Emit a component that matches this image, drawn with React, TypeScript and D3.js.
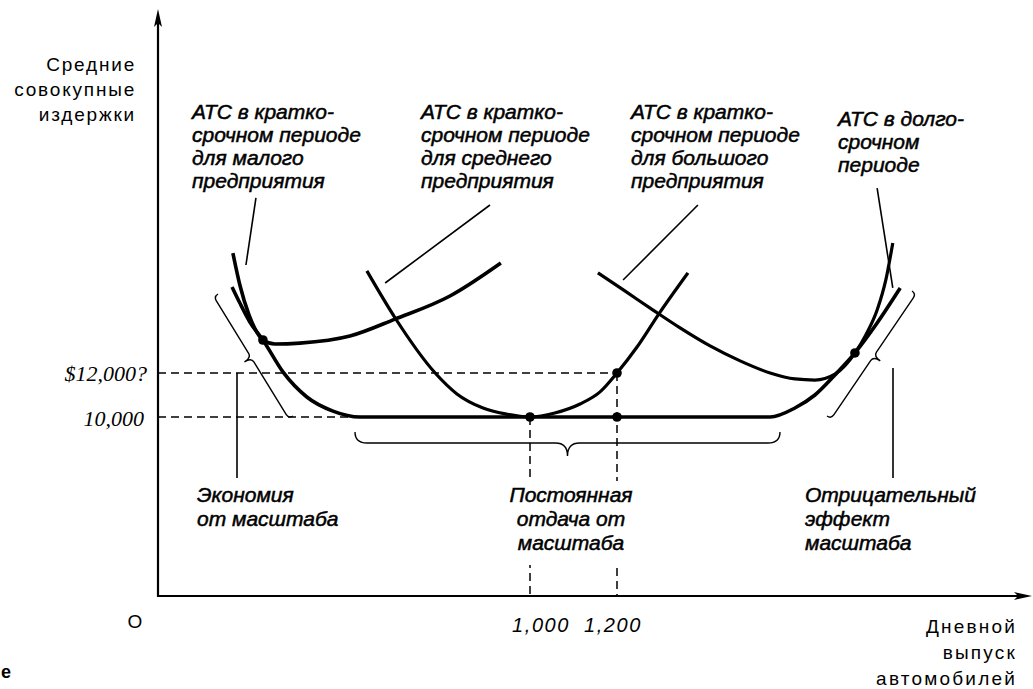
import React from "react";
import * as d3 from "d3";

// ---- Data (output in cars/day, cost in $) ----
const X_TICKS = [1000, 1200];
const X_TICK_LABELS = ["1,000", "1,200"];
const Y_TICKS = [12000, 10000];
const Y_TICK_LABELS = ["$12,000?", "10,000"];

const SMALL_ATC: [number, number][] = [
  [317, 17450], [333, 16000], [354, 14640], [372, 13860], [386, 13500], [414, 13320],
  [471, 13360], [586, 13680], [690, 14450], [816, 15500], [933, 17000],
];
const MEDIUM_ATC: [number, number][] = [
  [625, 16640], [690, 14500], [782, 12000], [832, 11050], [892, 10410], [943, 10140],
  [1000, 10000], [1057, 10180], [1115, 10590], [1161, 11140], [1200, 12000], [1246, 13180],
  [1299, 14770], [1363, 16550],
];
const LARGE_ATC: [number, number][] = [
  [1156, 16550], [1218, 15730], [1283, 14860], [1345, 14050], [1414, 13230], [1483, 12550],
  [1552, 12000], [1609, 11730], [1655, 11680], [1701, 11950], [1747, 12910], [1772, 13730],
  [1798, 14860], [1818, 16230], [1834, 17910],
];
const LONG_RUN_ATC: [number, number][] = [
  [315, 15910], [333, 15180], [356, 14320], [386, 13500], [432, 12050], [487, 10910],
  [547, 10270], [609, 10000], [1000, 10000], [1200, 10000], [1552, 10000], [1609, 10410],
  [1655, 11000], [1701, 11910], [1747, 12910], [1798, 14270], [1851, 15860],
];
const KEY_POINTS: [number, number][] = [
  [386, 13500], [1000, 10000], [1200, 12000], [1200, 10000], [1747, 12910],
];
// leader lines from labels to curves: [x1, y1, x2, y2] in data units
const LEADERS: [number, number, number, number][] = [
  [370, 19955, 347, 16909],
  [908, 19636, 667, 16091],
  [1386, 19636, 1214, 16227],
  [1798, 20409, 1834, 15864],
];

const Y_TITLE = ["Средние", "совокупные", "издержки"];
const X_TITLE = ["Дневной", "выпуск", "автомобилей"];
const LABEL_SMALL = ["АТС в кратко-", "срочном периоде", "для малого", "предприятия"];
const LABEL_MEDIUM = ["АТС в кратко-", "срочном периоде", "для среднего", "предприятия"];
const LABEL_LARGE = ["АТС в кратко-", "срочном периоде", "для большого", "предприятия"];
const LABEL_LONG = ["АТС в долго-", "срочном", "периоде"];
const LABEL_ECON = ["Экономия", "от масштаба"];
const LABEL_CONST = ["Постоянная", "отдача от", "масштаба"];
const LABEL_DISECON = ["Отрицательный", "эффект", "масштаба"];

const W = 1033;
const H = 689;
const AX_X = 158; // y-axis position
const AX_Y = 596; // x-axis position

const xScale = d3.scaleLinear().domain([1000, 1200]).range([530, 617]);
const yScale = d3.scaleLinear().domain([10000, 12000]).range([417, 373]);

const line = d3
  .line<[number, number]>()
  .x((d) => xScale(d[0]))
  .y((d) => yScale(d[1]))
  .curve(d3.curveMonotoneX);

function brace(x1: number, y1: number, x2: number, y2: number, d1: number, d2: number, r: number) {
  const L = Math.hypot(x2 - x1, y2 - y1);
  const a = (Math.atan2(y2 - y1, x2 - x1) * 180) / Math.PI;
  const m = L / 2;
  const d = `M0,0 Q0,${d1} ${r},${d1} L${m - r},${d1} Q${m},${d1} ${m},${d2} Q${m},${d1} ${m + r},${d1} L${L - r},${d1} Q${L},${d1} ${L},0`;
  return <path d={d} transform={`translate(${x1},${y1}) rotate(${a})`} fill="none" stroke="#000" strokeWidth={1.4} />;
}

const italicStyle: React.CSSProperties = {
  fontFamily: "'Liberation Sans', Arial, sans-serif",
  fontStyle: "italic",
  fontSize: 21,
};
const plainStyle: React.CSSProperties = {
  fontFamily: "'Liberation Sans', Arial, sans-serif",
  fontSize: 19,
  letterSpacing: 1.8,
};

function Lines({ lines, x, y, dy, anchor = "start", style }: { lines: string[]; x: number; y: number; dy: number; anchor?: string; style: React.CSSProperties }) {
  return (
    <text x={x} y={y} textAnchor={anchor as any} style={style} fill="#000" stroke="#000" strokeWidth={style.fontStyle === "italic" ? 0.5 : 0}>
      {lines.map((l, i) => (
        <tspan key={i} x={x} y={y + i * dy}>
          {l}
        </tspan>
      ))}
    </text>
  );
}

export default function App() {
  const x10 = xScale(X_TICKS[0]);
  const x12 = xScale(X_TICKS[1]);
  const y12 = yScale(Y_TICKS[0]);
  const y10 = yScale(Y_TICKS[1]);
  return (
    <svg width={W} height={H} style={{ position: "absolute", left: 0, top: 0, background: "#fff" }}>
      <rect width={W} height={H} fill="#fff" />
      {/* dashed guides */}
      <g stroke="#000" strokeWidth={1.5} strokeDasharray="8,5" fill="none">
        <line x1={AX_X} y1={y12} x2={x12} y2={y12} />
        <line x1={AX_X} y1={y10} x2={x10} y2={y10} />
        <line x1={x10} y1={y10} x2={x10} y2={AX_Y} />
        <line x1={x12} y1={y12} x2={x12} y2={AX_Y} />
      </g>
      {/* curves */}
      <g fill="none" stroke="#000" strokeLinecap="butt">
        <path d={line(SMALL_ATC) || ""} strokeWidth={3.6} />
        <path d={line(MEDIUM_ATC) || ""} strokeWidth={3.2} />
        <path d={line(LARGE_ATC) || ""} strokeWidth={3.2} />
        <path d={line(LONG_RUN_ATC) || ""} strokeWidth={3.6} />
      </g>
      {KEY_POINTS.map((p, i) => (
        <circle key={i} cx={xScale(p[0])} cy={yScale(p[1])} r={4.8} fill="#000" />
      ))}
      {/* leaders */}
      <g stroke="#000" strokeWidth={1.6}>
        {LEADERS.map((l, i) => (
          <line key={i} x1={xScale(l[0])} y1={yScale(l[1])} x2={xScale(l[2])} y2={yScale(l[3])} />
        ))}
      </g>
      {/* braces */}
      {brace(218, 294, 293, 416, 5, 13, 5)}
      {brace(355, 432, 780, 432, 11, 24, 12)}
      {brace(827, 416, 912, 291, 5, 13, 5)}
      <line x1={237} y1={y12} x2={237} y2={478} stroke="#000" strokeWidth={1.6} />
      <line x1={893} y1={368} x2={893} y2={478} stroke="#000" strokeWidth={1.6} />
      {/* white box behind constant returns label */}
      <rect x={500} y={481} width={140} height={84} fill="#fff" />
      {/* axes */}
      <g stroke="#000" strokeWidth={2.2}>
        <line x1={AX_X} y1={AX_Y + 1} x2={AX_X} y2={20} />
        <line x1={AX_X - 1} y1={AX_Y} x2={1022} y2={AX_Y} />
      </g>
      <polygon points={`${AX_X},9 ${AX_X - 4},27 ${AX_X},23 ${AX_X + 4},27`} fill="#000" />
      <polygon points={`1032,${AX_Y} 1014,${AX_Y - 4} 1018,${AX_Y} 1014,${AX_Y + 4}`} fill="#000" />
      {/* tick labels */}
      <text x={x10 - 18} y={632} style={{ ...italicStyle, fontSize: 20, letterSpacing: 1.6 }} fill="#000">
        {X_TICK_LABELS[0]}
      </text>
      <text x={x12 + 25} y={632} textAnchor="end" style={{ ...italicStyle, fontSize: 20, letterSpacing: 1.6 }} fill="#000">
        {X_TICK_LABELS[1]}
      </text>
      <text x={147} y={y12 + 8} textAnchor="end" style={{ fontFamily: "'Liberation Serif', 'Times New Roman', serif", fontStyle: "italic", fontSize: 22 }} fill="#000">
        {Y_TICK_LABELS[0]}
      </text>
      <text x={144} y={y10 + 9} textAnchor="end" style={{ fontFamily: "'Liberation Serif', 'Times New Roman', serif", fontStyle: "italic", fontSize: 22 }} fill="#000">
        {Y_TICK_LABELS[1]}
      </text>
      {/* axis titles */}
      <Lines lines={Y_TITLE} x={136} y={71} dy={25} anchor="end" style={plainStyle} />
      <Lines lines={X_TITLE} x={1017} y={633} dy={26} anchor="end" style={{ ...plainStyle, letterSpacing: 2.2 }} />
      <text x={135} y={628} textAnchor="middle" style={{ ...plainStyle, letterSpacing: 0 }} fill="#000">O</text>
      {/* annotations */}
      <Lines lines={LABEL_SMALL} x={192} y={119} dy={23} style={italicStyle} />
      <Lines lines={LABEL_MEDIUM} x={421} y={119} dy={23} style={italicStyle} />
      <Lines lines={LABEL_LARGE} x={631} y={119} dy={23} style={italicStyle} />
      <Lines lines={LABEL_LONG} x={838} y={126} dy={23} style={italicStyle} />
      <Lines lines={LABEL_ECON} x={197} y={502} dy={24} style={italicStyle} />
      <Lines lines={LABEL_CONST} x={571} y={502} dy={24} anchor="middle" style={italicStyle} />
      <Lines lines={LABEL_DISECON} x={805} y={502} dy={24} style={italicStyle} />
      <text x={1} y={678} style={{ fontFamily: "'Liberation Sans', Arial, sans-serif", fontWeight: "bold", fontSize: 18 }} fill="#000">е</text>
    </svg>
  );
}
